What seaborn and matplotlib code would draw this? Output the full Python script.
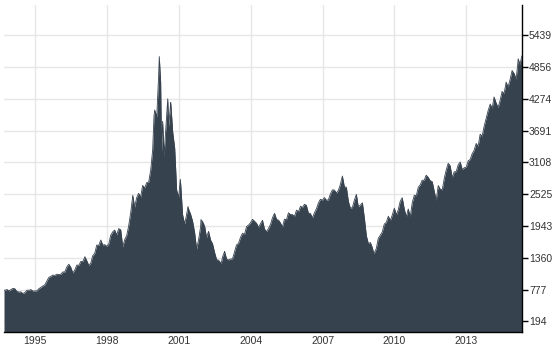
import matplotlib
matplotlib.use("Agg")
import matplotlib.pyplot as plt
import seaborn as sns
import pandas as pd
import numpy as np

# Monthly closes, Sep 1993 .. Mar 2015
closes = [
    763, 779, 754, 777,                                                # 1993 Sep-Dec
    800, 793, 743, 733, 735, 706, 722, 766, 764, 777, 750, 752,          # 1994
    755, 793, 817, 843, 865, 933, 1001, 1020, 1044, 1036, 1059, 1052,    # 1995
    1060, 1100, 1101, 1191, 1243, 1185, 1081, 1141, 1227, 1222, 1293, 1291,  # 1996
    1380, 1309, 1222, 1261, 1400, 1442, 1594, 1587, 1686, 1594, 1601, 1570,  # 1997
    1619, 1771, 1835, 1868, 1779, 1895, 1873, 1560, 1694, 1771, 1950, 2193,  # 1998
    2505, 2288, 2461, 2543, 2471, 2686, 2638, 2739, 2746, 2966, 3336, 4069,  # 1999
    3940, 4697, 4573, 3861, 3401, 3966, 3767, 4206, 3673, 3370, 2598, 2471,  # 2000
    2700, 2152, 1980, 2150, 2250, 2160, 2030, 1820, 1520, 1700, 1930, 2020,  # 2001
    1934, 1731, 1845, 1688, 1616, 1463, 1328, 1315, 1270, 1380, 1479, 1336,  # 2002
    1321, 1337, 1341, 1464, 1596, 1623, 1735, 1810, 1787, 1932, 1960, 2003,  # 2003
    2066, 2030, 1994, 1920, 1987, 2048, 1887, 1838, 1897, 1975, 2097, 2175,  # 2004
    2062, 2052, 1999, 1922, 2068, 2057, 2185, 2152, 2152, 2120, 2233, 2205,  # 2005
    2306, 2281, 2340, 2323, 2179, 2172, 2091, 2184, 2258, 2367, 2432, 2415,  # 2006
    2464, 2416, 2422, 2525, 2605, 2603, 2546, 2596, 2702, 2859, 2661, 2652,  # 2007
    2390, 2271, 2279, 2413, 2523, 2293, 2326, 2368, 2092, 1760, 1620, 1640,  # 2008
    1540, 1450, 1529, 1717, 1774, 1835, 1979, 2009, 2122, 2045, 2145, 2269,  # 2009
    2147, 2238, 2398, 2461, 2257, 2109, 2255, 2114, 2369, 2507, 2498, 2653,  # 2010
    2700, 2782, 2781, 2874, 2835, 2774, 2756, 2579, 2415, 2684, 2620, 2605,  # 2011
    2814, 2967, 3092, 3046, 2827, 2935, 2940, 3067, 3116, 2977, 3010, 3020,  # 2012
    3142, 3160, 3268, 3329, 3456, 3403, 3626, 3590, 3771, 3920, 4060, 4177,  # 2013
    4104, 4308, 4199, 4115, 4243, 4408, 4370, 4580, 4493, 4631, 4792, 4736,  # 2014
    4635, 4964, 4901,                                                    # 2015 Jan-Mar
]
months = pd.date_range("1993-09-30", periods=len(closes), freq="ME")

# Intra-month extremes visible on the chart
extra_dates = ["1993-09-16", "1999-12-20", "2000-03-10", "2000-04-14",
               "2000-05-24", "2000-07-17", "2000-09-01", "2001-01-24",
               "2001-05-22", "2001-12-05", "2002-10-09", "2002-11-29",
               "2007-10-31", "2009-02-20", "2015-03-02", "2015-04-27"]
extra_values = [770, 3950, 5048, 3300,
                3200, 4274, 4200, 2800,
                2300, 2060, 1250, 1470,
                2859, 1440, 5008, 5060]

y_ticks = [194, 777, 1360, 1943, 2525, 3108, 3691, 4274, 4856, 5439]
x_tick_years = [1995, 1998, 2001, 2004, 2007, 2010, 2013]

df = pd.concat([
    pd.DataFrame({"date": months, "value": closes}),
    pd.DataFrame({"date": pd.to_datetime(extra_dates), "value": extra_values}),
]).sort_values("date").reset_index(drop=True)

sns.set_theme(style="white")
plt.rcParams['font.family'] = ['Liberation Sans', 'DejaVu Sans']

fill = "#37424f"
fig = plt.figure(figsize=(5.55, 3.52), dpi=100)
ax = fig.add_axes([4 / 555, 20 / 352, 518 / 555, 327 / 352])

ax.fill_between(df["date"], df["value"], color=fill, lw=0, zorder=2)
sns.lineplot(data=df, x="date", y="value", ax=ax, color=fill, lw=0.6, zorder=3)

ax.set_xlim(pd.Timestamp("1993-09-16"), pd.Timestamp("2015-04-30"))
ax.set_ylim(0, 5993)

ax.yaxis.tick_right()
ax.set_yticks(y_ticks)
ax.set_yticklabels([str(v) for v in y_ticks])
ax.set_xticks([pd.Timestamp(f"{y}-01-01") for y in x_tick_years])
ax.set_xticklabels([str(y) for y in x_tick_years])

ax.grid(True, color="#e6e6e6", lw=1)
ax.set_axisbelow(True)
for s in ["top", "left"]:
    ax.spines[s].set_visible(False)
for s in ["right", "bottom"]:
    ax.spines[s].set_color("black")
    ax.spines[s].set_linewidth(1)

ax.tick_params(axis='y', right=True, left=False, length=4, width=1, color='black',
               labelsize=7.5, labelcolor='#333333', pad=1)
ax.tick_params(axis='x', bottom=False, length=0, labelsize=7.5, labelcolor='#333333', pad=3)
ax.set_xlabel("")
ax.set_ylabel("")

fig.savefig("out.png", dpi=100)
